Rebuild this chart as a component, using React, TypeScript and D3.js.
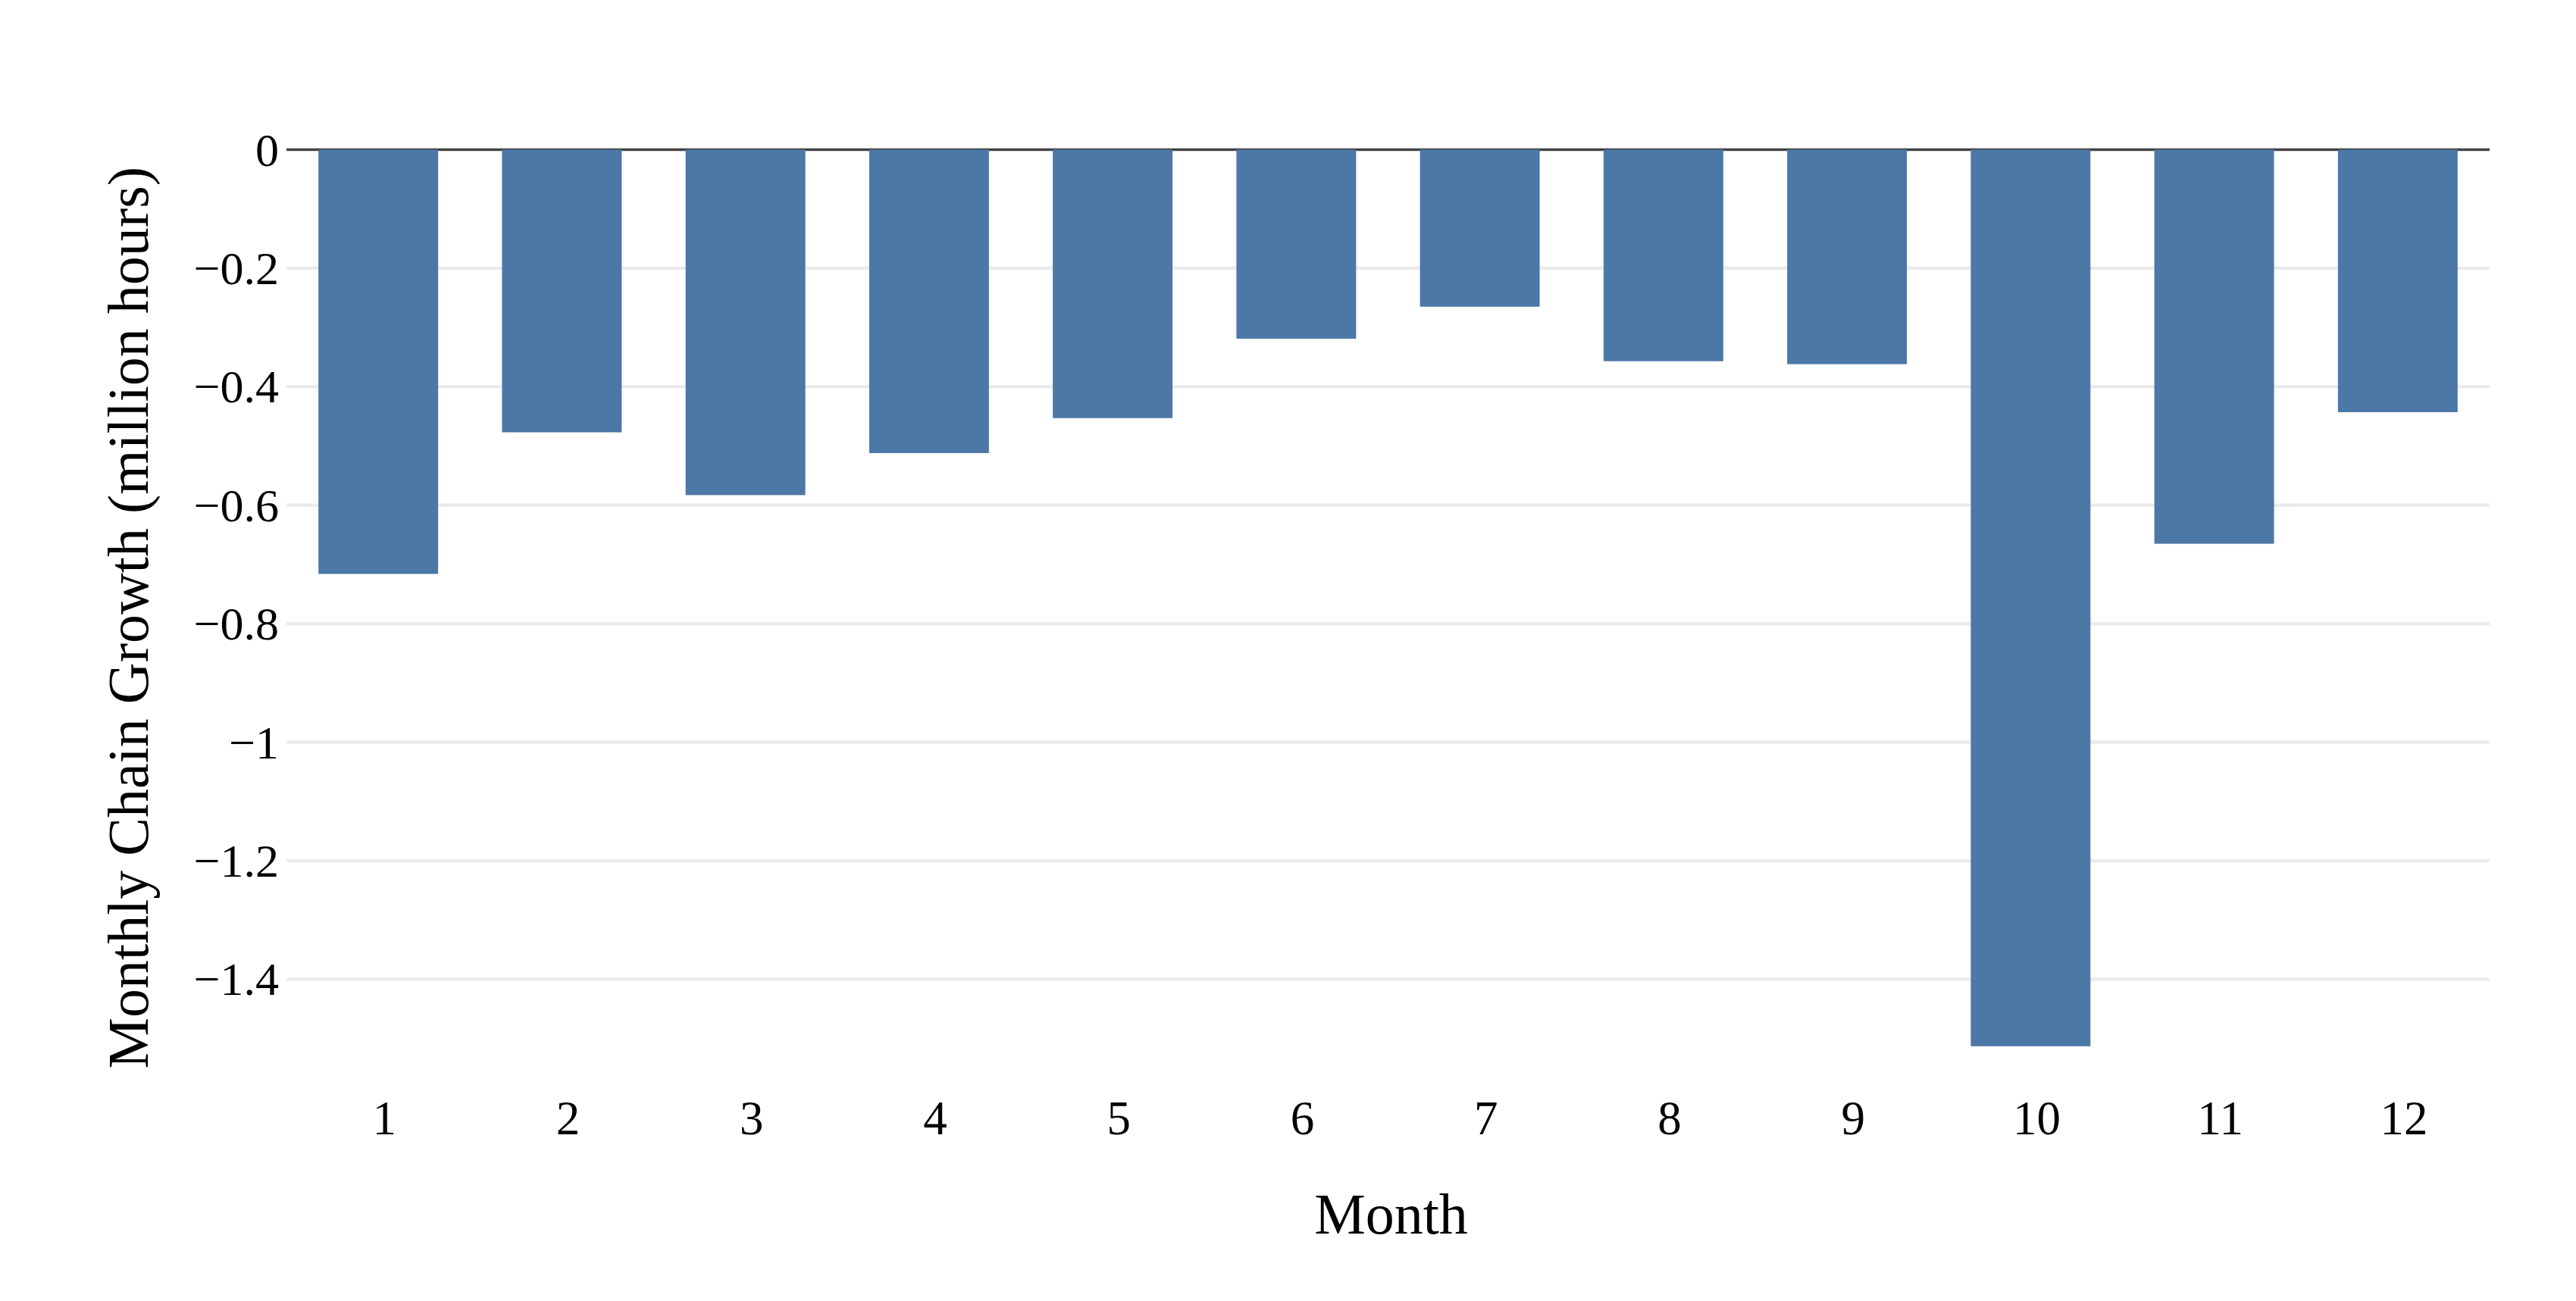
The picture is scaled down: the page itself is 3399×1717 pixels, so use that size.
import React, { useEffect, useRef } from "react";
import * as d3 from "d3";

// monthly chain growth, million hours
const months = ["1", "2", "3", "4", "5", "6", "7", "8", "9", "10", "11", "12"];
const growth = [-0.716, -0.477, -0.583, -0.512, -0.453, -0.319, -0.265, -0.357, -0.362, -1.513, -0.665, -0.443];
const yTicks = [0, -0.2, -0.4, -0.6, -0.8, -1, -1.2, -1.4];

const xTitle = "Month";
const yTitle = "Monthly Chain Growth (million hours)";

const WIDTH = 3399;
const HEIGHT = 1717;
const FONT = '"Liberation Serif", "Times New Roman", Times, serif';

function draw(ref: SVGSVGElement) {
	const svg = d3.select(ref).attr("width", WIDTH).attr("height", HEIGHT).attr("viewBox", `0 0 ${WIDTH} ${HEIGHT}`);
	svg.selectAll("*").remove();

	svg.append("rect").attr("width", WIDTH).attr("height", HEIGHT).attr("fill", "white");

	const left = 378;
	const right = 3285;
	const top = 197.5;
	const bottom = 1441;

	const x = d3.scaleBand().domain(months).range([left, right]).paddingInner(0.348).paddingOuter(0.174);
	const y = d3.scaleLinear().domain([-1.59, 0]).range([bottom, top]);
	const fmt = d3.format("~g");

	// grid lines
	svg
		.append("g")
		.selectAll("line")
		.data(yTicks.filter((d) => d !== 0))
		.enter()
		.append("line")
		.attr("x1", left)
		.attr("x2", right)
		.attr("y1", (d) => y(d))
		.attr("y2", (d) => y(d))
		.attr("stroke", "#ebebeb")
		.attr("stroke-width", 4.5);

	// zero line
	svg
		.append("line")
		.attr("x1", left)
		.attr("x2", right)
		.attr("y1", y(0))
		.attr("y2", y(0))
		.attr("stroke", "#444")
		.attr("stroke-width", 3.5);

	// bars
	svg
		.append("g")
		.selectAll("rect")
		.data(growth)
		.enter()
		.append("rect")
		.attr("x", (_, i) => x(months[i]) as number)
		.attr("width", x.bandwidth())
		.attr("y", (d) => y(Math.max(0, d)))
		.attr("height", (d) => Math.abs(y(d) - y(0)))
		.attr("fill", "#4c78a8");

	// y tick labels
	svg
		.append("g")
		.selectAll("text")
		.data(yTicks)
		.enter()
		.append("text")
		.attr("x", 368)
		.attr("y", (d) => y(d))
		.attr("dy", "0.34em")
		.attr("text-anchor", "end")
		.attr("font-family", FONT)
		.attr("font-size", 62)
		.attr("fill", "#000")
		.text((d) => fmt(d));

	// x tick labels (sit slightly right of the band centre in the original)
	svg
		.append("g")
		.selectAll("text")
		.data(months)
		.enter()
		.append("text")
		.attr("x", (d) => (x(d) as number) + x.bandwidth() / 2 + 8)
		.attr("y", 1497)
		.attr("text-anchor", "middle")
		.attr("font-family", FONT)
		.attr("font-size", 63)
		.attr("fill", "#000")
		.text((d) => d);

	// axis titles
	svg
		.append("text")
		.attr("x", (left + right) / 2 + 4)
		.attr("y", 1628)
		.attr("text-anchor", "middle")
		.attr("font-family", FONT)
		.attr("font-size", 76)
		.attr("fill", "#000")
		.text(xTitle);

	svg
		.append("text")
		.attr("transform", `translate(195,${(top + bottom) / 2 - 4}) rotate(-90)`)
		.attr("text-anchor", "middle")
		.attr("font-family", FONT)
		.attr("font-size", 76)
		.attr("fill", "#000")
		.text(yTitle);
}

export default function App() {
	const ref = useRef<SVGSVGElement>(null);
	useEffect(() => {
		if (!ref.current) return;
		draw(ref.current);
	}, []);
	return <svg ref={ref} style={{ position: "absolute", left: 0, top: 0, display: "block" }} />;
}
